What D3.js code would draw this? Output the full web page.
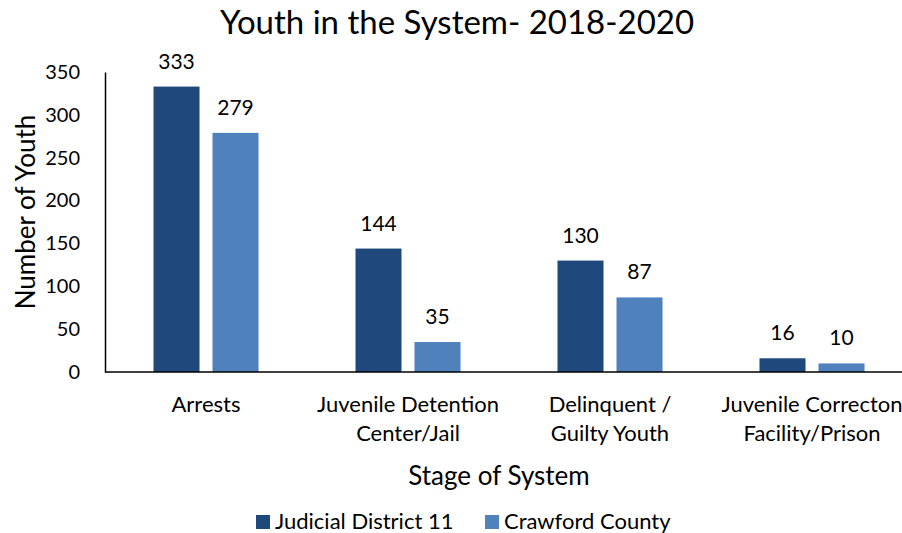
<!DOCTYPE html>
<html>
<head>
<meta charset="utf-8">
<script src="https://cdn.jsdelivr.net/npm/d3@7"></script>
<style>
  html, body { margin: 0; padding: 0; background: #fff; }
  svg { display: block; font-family: Lato, "Open Sans", sans-serif; }
</style>
</head>
<body>
<svg id="chart" width="902" height="533"></svg>
<script>
// Youth counts by stage of the justice system, 2018-2020
const categories = [
  ["Arrests"],
  ["Juvenile Detention", "Center/Jail"],
  ["Delinquent /", "Guilty Youth"],
  ["Juvenile Correcton", "Facility/Prison"]
];
const seriesNames = ["Judicial District 11", "Crawford County"];
const district11 = [333, 144, 130, 16];
const crawford = [279, 35, 87, 10];
const yTicks = [0, 50, 100, 150, 200, 250, 300, 350];
const colors = ["#1F497D", "#4F81BD"];

const svg = d3.select("#chart");
const margin = { left: 105, top: 72, bottom: 372 };
const plotRight = 913;

const x0 = d3.scaleBand()
  .domain(d3.range(categories.length))
  .range([margin.left, plotRight])
  .paddingInner(0)
  .paddingOuter(0);

const x1 = d3.scaleBand()
  .domain([0, 1])
  .range([x0.bandwidth() * 0.24, x0.bandwidth() * 0.76])
  .paddingInner(0.22);

const y = d3.scaleLinear().domain([0, 350]).range([margin.bottom, margin.top]);

// Title
svg.append("text")
  .attr("x", 457).attr("y", 34)
  .attr("text-anchor", "middle")
  .attr("font-size", 33)
  .attr("fill", "#000")
  .text("Youth in the System- 2018-2020");

// Y axis (line + labels, no tick marks)
const yAxis = d3.axisLeft(y).tickValues(yTicks).tickSize(0).tickPadding(25);
const gy = svg.append("g").attr("transform", `translate(${margin.left},0)`).call(yAxis);
gy.select(".domain").attr("stroke", "#000").attr("stroke-width", 1.5);
gy.selectAll("text").attr("font-size", 20).attr("fill", "#000").attr("font-family", "Lato, 'Open Sans', sans-serif");

// Y axis title
svg.append("text")
  .attr("transform", `translate(35,212) rotate(-90)`)
  .attr("text-anchor", "middle")
  .attr("font-size", 26)
  .attr("fill", "#000")
  .text("Number of Youth");

// Bars
const data = categories.map((c, i) => ({ i, values: [district11[i], crawford[i]] }));
const groups = svg.append("g").selectAll("g").data(data).join("g")
  .attr("transform", d => `translate(${x0(d.i)},0)`);

groups.selectAll("rect").data(d => d.values.map((v, s) => ({ v, s }))).join("rect")
  .attr("x", d => x1(d.s))
  .attr("width", x1.bandwidth())
  .attr("y", d => y(d.v))
  .attr("height", d => y(0) - y(d.v))
  .attr("fill", d => colors[d.s]);

groups.selectAll("text.val").data(d => d.values.map((v, s) => ({ v, s }))).join("text")
  .attr("class", "val")
  .attr("x", d => x1(d.s) + x1.bandwidth() / 2)
  .attr("y", d => y(d.v) - 18)
  .attr("text-anchor", "middle")
  .attr("font-size", 21)
  .attr("fill", "#000")
  .text(d => d.v);

// X axis baseline
svg.append("line")
  .attr("x1", margin.left).attr("x2", 902)
  .attr("y1", y(0)).attr("y2", y(0))
  .attr("stroke", "#000").attr("stroke-width", 1.5);

// Category labels
const catLabels = svg.append("g").selectAll("text").data(categories).join("text")
  .attr("x", (d, i) => x0(i) + x0.bandwidth() / 2)
  .attr("y", 412)
  .attr("text-anchor", "middle")
  .attr("font-size", 22)
  .attr("fill", "#000");
catLabels.selectAll("tspan").data(d => d).join("tspan")
  .attr("x", function () { return d3.select(this.parentNode).attr("x"); })
  .attr("dy", (d, j) => j === 0 ? 0 : 29)
  .text(d => d);

// X axis title
svg.append("text")
  .attr("x", 499).attr("y", 485)
  .attr("text-anchor", "middle")
  .attr("font-size", 26)
  .attr("fill", "#000")
  .text("Stage of System");

// Legend
const legendX = [256, 485];
const legend = svg.append("g").selectAll("g").data(seriesNames).join("g")
  .attr("transform", (d, i) => `translate(${legendX[i]},515)`);
legend.append("rect").attr("width", 14).attr("height", 14).attr("fill", (d, i) => colors[i]);
legend.append("text")
  .attr("x", 19).attr("y", 14)
  .attr("font-size", 22)
  .attr("fill", "#000")
  .text(d => d);
</script>
</body>
</html>
